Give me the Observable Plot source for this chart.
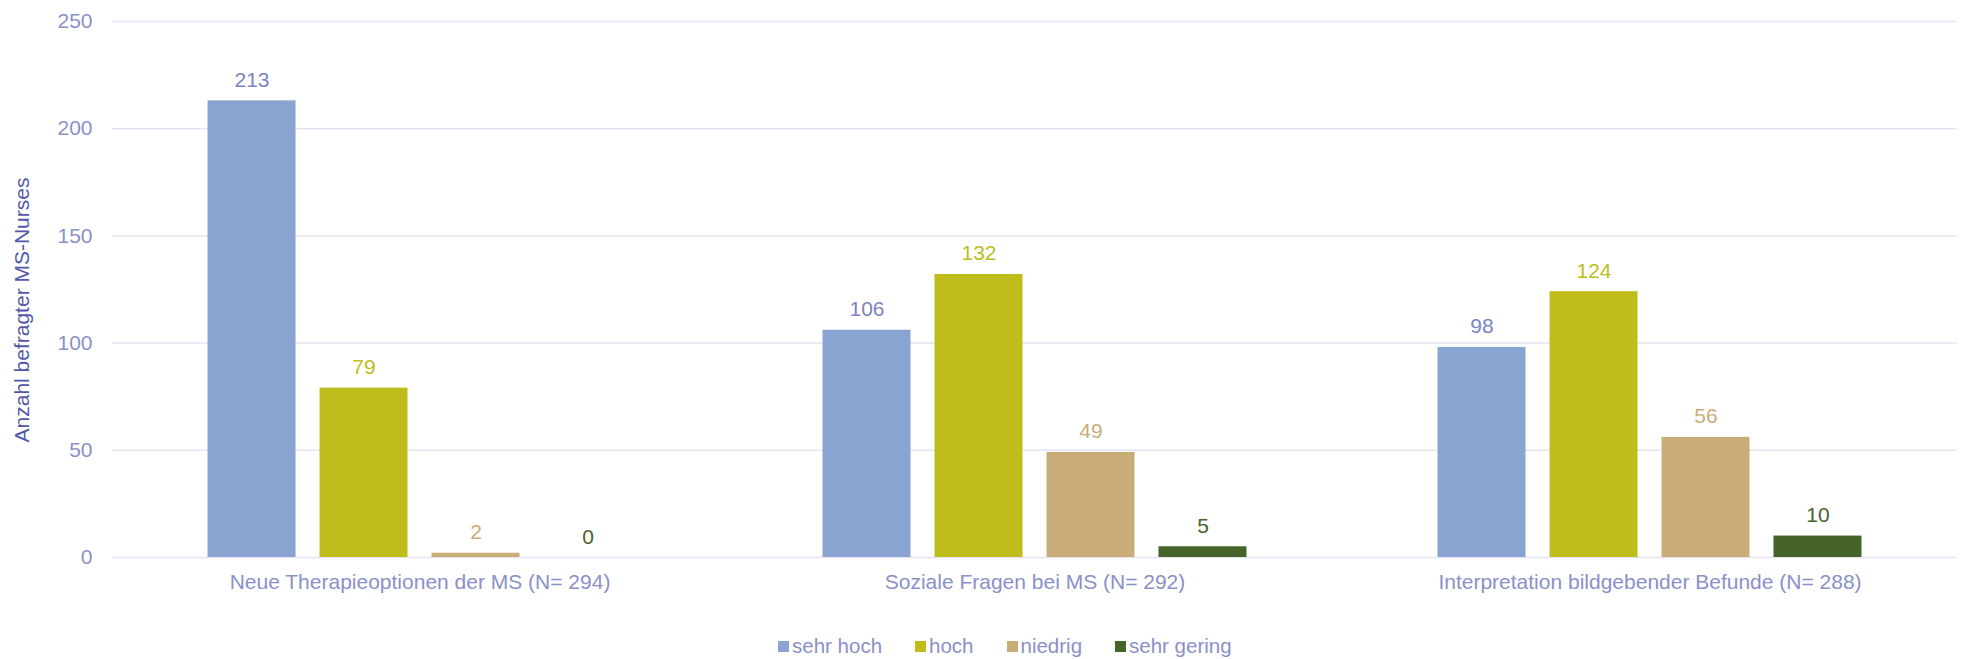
<!DOCTYPE html>
<html>
<head>
<meta charset="utf-8">
<script src="https://cdn.jsdelivr.net/npm/d3@7"></script>
<script src="https://cdn.jsdelivr.net/npm/@observablehq/plot@0.6"></script>
<style>
  html, body { margin: 0; padding: 0; background: #ffffff; }
  #wrap { position: relative; width: 1966px; height: 659px; font-family: "Liberation Sans", Arial, sans-serif; }
  #legend { position: absolute; left: 778px; top: 634px; height: 24px; display: flex; align-items: center; font-size: 20.5px; color: #8a90c8; }
  .item { display: flex; align-items: center; margin-right: 33px; }
  .sw { width: 11px; height: 11px; margin-right: 3px; }
</style>
</head>
<body>
<div id="wrap"></div>
<script>
const groups = ["Neue Therapieoptionen der MS (N= 294)", "Soziale Fragen bei MS (N= 292)", "Interpretation bildgebender Befunde (N= 288)"];
const series = ["sehr hoch", "hoch", "niedrig", "sehr gering"];
const sehrHoch = [213, 106, 98];
const hoch = [79, 132, 124];
const niedrig = [2, 49, 56];
const sehrGering = [0, 5, 10];
const yTicks = [0, 50, 100, 150, 200, 250];
const yTitle = "Anzahl befragter MS-Nurses";

const barColors = ["#8aa4d2", "#bebd1b", "#c9ad78", "#46642a"];
const labelColors = ["#7b84c2", "#bebd1b", "#c9ad78", "#46642a"];
const axisColor = "#8a90c8";

const valuesBySeries = [sehrHoch, hoch, niedrig, sehrGering];
const data = [];
groups.forEach((g, gi) => {
  series.forEach((s, si) => {
    data.push({group: g, series: s, value: valuesBySeries[si][gi]});
  });
});

const plot = Plot.plot({
  width: 1966,
  height: 610,
  marginLeft: 112,
  marginRight: 9,
  marginTop: 21,
  marginBottom: 53,
  style: {fontFamily: '"Liberation Sans", Arial, sans-serif', fontSize: "21px", color: axisColor, background: "#ffffff"},
  fx: {domain: groups, padding: 0, round: false},
  x: {domain: series, paddingInner: 0.2143, paddingOuter: 0.853, round: false, axis: null},
  y: {domain: [0, 250], ticks: yTicks},
  color: {domain: series, range: barColors},
  marks: [
    Plot.gridY(yTicks, {stroke: "#e4e4f3", strokeOpacity: 1, strokeWidth: 1.5}),
    Plot.axisY(yTicks, {tickSize: 0, tickPadding: 20, label: null, fontSize: 21, color: axisColor}),
    Plot.axisFx({anchor: "bottom", tickSize: 0, tickPadding: 17, label: null, fontSize: 21, color: axisColor}),
    Plot.barY(data, {fx: "group", x: "series", y: "value", fill: "series"}),
    ...series.map((s, i) => Plot.text(data.filter(d => d.series === s), {
      fx: "group", x: "series", y: "value", text: d => String(d.value),
      fill: labelColors[i], lineAnchor: "bottom", dy: -14, fontSize: 21
    }))
  ]
});

const wrap = document.getElementById("wrap");
wrap.appendChild(plot);

d3.select(plot).append("text")
  .attr("transform", "translate(29,310) rotate(-90)")
  .attr("text-anchor", "middle")
  .attr("fill", "#5359a8")
  .attr("font-size", 21)
  .text(yTitle);

const legend = d3.select(wrap).append("div").attr("id", "legend");
series.forEach((s, i) => {
  const it = legend.append("div").attr("class", "item");
  it.append("div").attr("class", "sw").style("background", barColors[i]);
  it.append("span").text(s);
});
</script>
</body>
</html>
